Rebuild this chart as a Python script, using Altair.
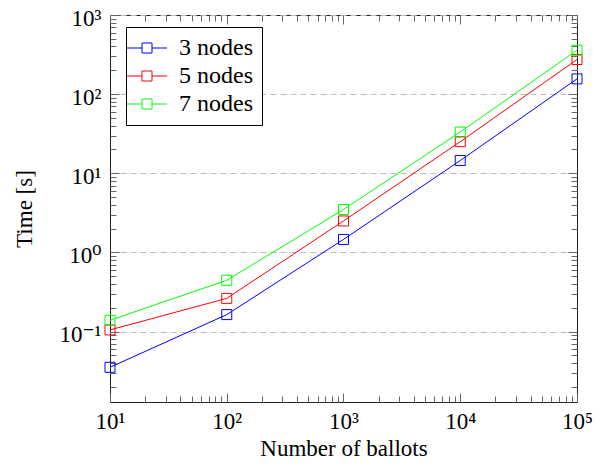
import math
import altair as alt
import pandas as pd

# ---- data ----
ballots = [10, 100, 1000, 10000, 100000]
series_names = ["3 nodes", "5 nodes", "7 nodes"]
time_3_nodes = [0.0354, 0.164, 1.46, 14.5, 156]
time_5_nodes = [0.105, 0.263, 2.5, 25.1, 274]
time_7_nodes = [0.139, 0.445, 3.49, 33.2, 359]
series_colors = ["#0000ff", "#ff0000", "#00ff00"]

x_major = [10, 100, 1000, 10000, 100000]
y_major = [0.1, 1, 10, 100, 1000]
x_minor = [round(m * 10 ** k, 6) for k in range(1, 5) for m in range(2, 10)]
y_minor = [round(m * 10 ** k, 6) for k in range(-2, 3) for m in range(2, 10)]

rows = []
for name, vals in zip(series_names, [time_3_nodes, time_5_nodes, time_7_nodes]):
    for b, v in zip(ballots, vals):
        rows.append({"ballots": b, "time": v, "series": name})
df = pd.DataFrame(rows)

SUP = {"0": "⁰", "1": "¹", "2": "²", "3": "³", "4": "⁴", "5": "⁵",
       "6": "⁶", "7": "⁷", "8": "⁸", "9": "⁹", "-": "⁻"}


def label_expr(vals):
    expr = "''"
    for v in reversed(vals):
        e = round(math.log10(v))
        s = "10" + "".join(SUP[c] for c in str(e))
        expr = f"(abs(datum.value - {v}) < {v * 1e-6}) ? '{s}' : ({expr})"
    return expr


FONT = "'Liberation Serif', 'Times New Roman', 'DejaVu Serif', serif"
FS = 23
LFS = 24
TICK = "#666666"

xscale = alt.Scale(type="log", domain=[10, 100000], nice=False)
yscale = alt.Scale(type="log", domain=[0.0129, 1000], nice=False)


def tick_axis(orient, vals, size):
    return alt.Axis(orient=orient, values=vals, labels=False, domain=False,
                    ticks=True, tickSize=size, offset=-size, tickColor=TICK,
                    tickWidth=1, grid=False, title="")


x_main = alt.Axis(orient="bottom", values=x_major, labelExpr=label_expr(x_major),
                  ticks=False, domain=False, grid=False,
                  labelFont=FONT, labelFontSize=FS, labelColor="black",
                  labelPadding=8, labelFlush=False, labelOverlap=False,
                  title="Number of ballots", titleFont=FONT, titleFontSize=FS,
                  titleFontWeight="normal", titleColor="black", titlePadding=4)
y_main = alt.Axis(orient="left", values=y_major, labelExpr=label_expr(y_major),
                  ticks=False, domain=False, grid=True, gridColor="#bdbdbd",
                  gridDash=[6, 4], gridWidth=1,
                  labelFont=FONT, labelFontSize=FS, labelColor="black",
                  labelPadding=9, labelOffset=3, labelFlush=False,
                  labelOverlap=False,
                  title="Time [s]", titleFont=FONT, titleFontSize=FS,
                  titleFontWeight="normal", titleColor="black", titlePadding=22)

color_scale = alt.Scale(domain=series_names, range=series_colors)
legend = alt.Legend(
    title=None, orient="none", legendX=16, legendY=12,
    symbolType="M-4,0L-1,0M-1,-1L1,-1L1,1L-1,1ZM1,0L4,0",
    symbolSize=100, symbolStrokeWidth=1, symbolFillColor="transparent",
    labelFont=FONT, labelFontSize=LFS, labelColor="black", labelOffset=20,
    labelLimit=300,
    rowPadding=4, padding=9, strokeColor="black", fillColor="white",
    cornerRadius=0,
)

base = alt.Chart(df)

lines = base.mark_line(strokeWidth=1).encode(
    x=alt.X("ballots:Q", scale=xscale, axis=x_main),
    y=alt.Y("time:Q", scale=yscale, axis=y_main),
    color=alt.Color("series:N", scale=color_scale, legend=legend),
)
points = base.mark_point(shape="square", filled=False, size=100, strokeWidth=1,
                         opacity=1).encode(
    x=alt.X("ballots:Q", scale=xscale, axis=tick_axis("bottom", x_major, 9)),
    y=alt.Y("time:Q", scale=yscale, axis=tick_axis("left", y_major, 9)),
    color=alt.Color("series:N", scale=color_scale, legend=legend),
)
minor1 = base.mark_point(opacity=0).encode(
    x=alt.X("ballots:Q", scale=xscale, axis=tick_axis("bottom", x_minor, 6)),
    y=alt.Y("time:Q", scale=yscale, axis=tick_axis("left", y_minor, 6)),
)
major2 = base.mark_point(opacity=0).encode(
    x=alt.X("ballots:Q", scale=xscale, axis=tick_axis("top", x_major, 9)),
    y=alt.Y("time:Q", scale=yscale, axis=tick_axis("right", y_major, 9)),
)
minor2 = base.mark_point(opacity=0).encode(
    x=alt.X("ballots:Q", scale=xscale, axis=tick_axis("top", x_minor, 6)),
    y=alt.Y("time:Q", scale=yscale, axis=tick_axis("right", y_minor, 6)),
)

chart = (
    alt.layer(lines, points, minor1, major2, minor2)
    .resolve_axis(x="independent", y="independent")
    .properties(
        width=467, height=387,
        autosize=alt.AutoSizeParams(type="none"),
        padding={"left": 102, "top": 7, "right": 19, "bottom": 61},
        background="white",
    )
    .configure(font=FONT)
    .configure_view(stroke="#222222", strokeWidth=1)
    .configure_legend(labelFont=FONT, labelFontSize=LFS, labelColor="black")
)

chart.save("out.html", embed_options={"renderer": "svg", "actions": False})
